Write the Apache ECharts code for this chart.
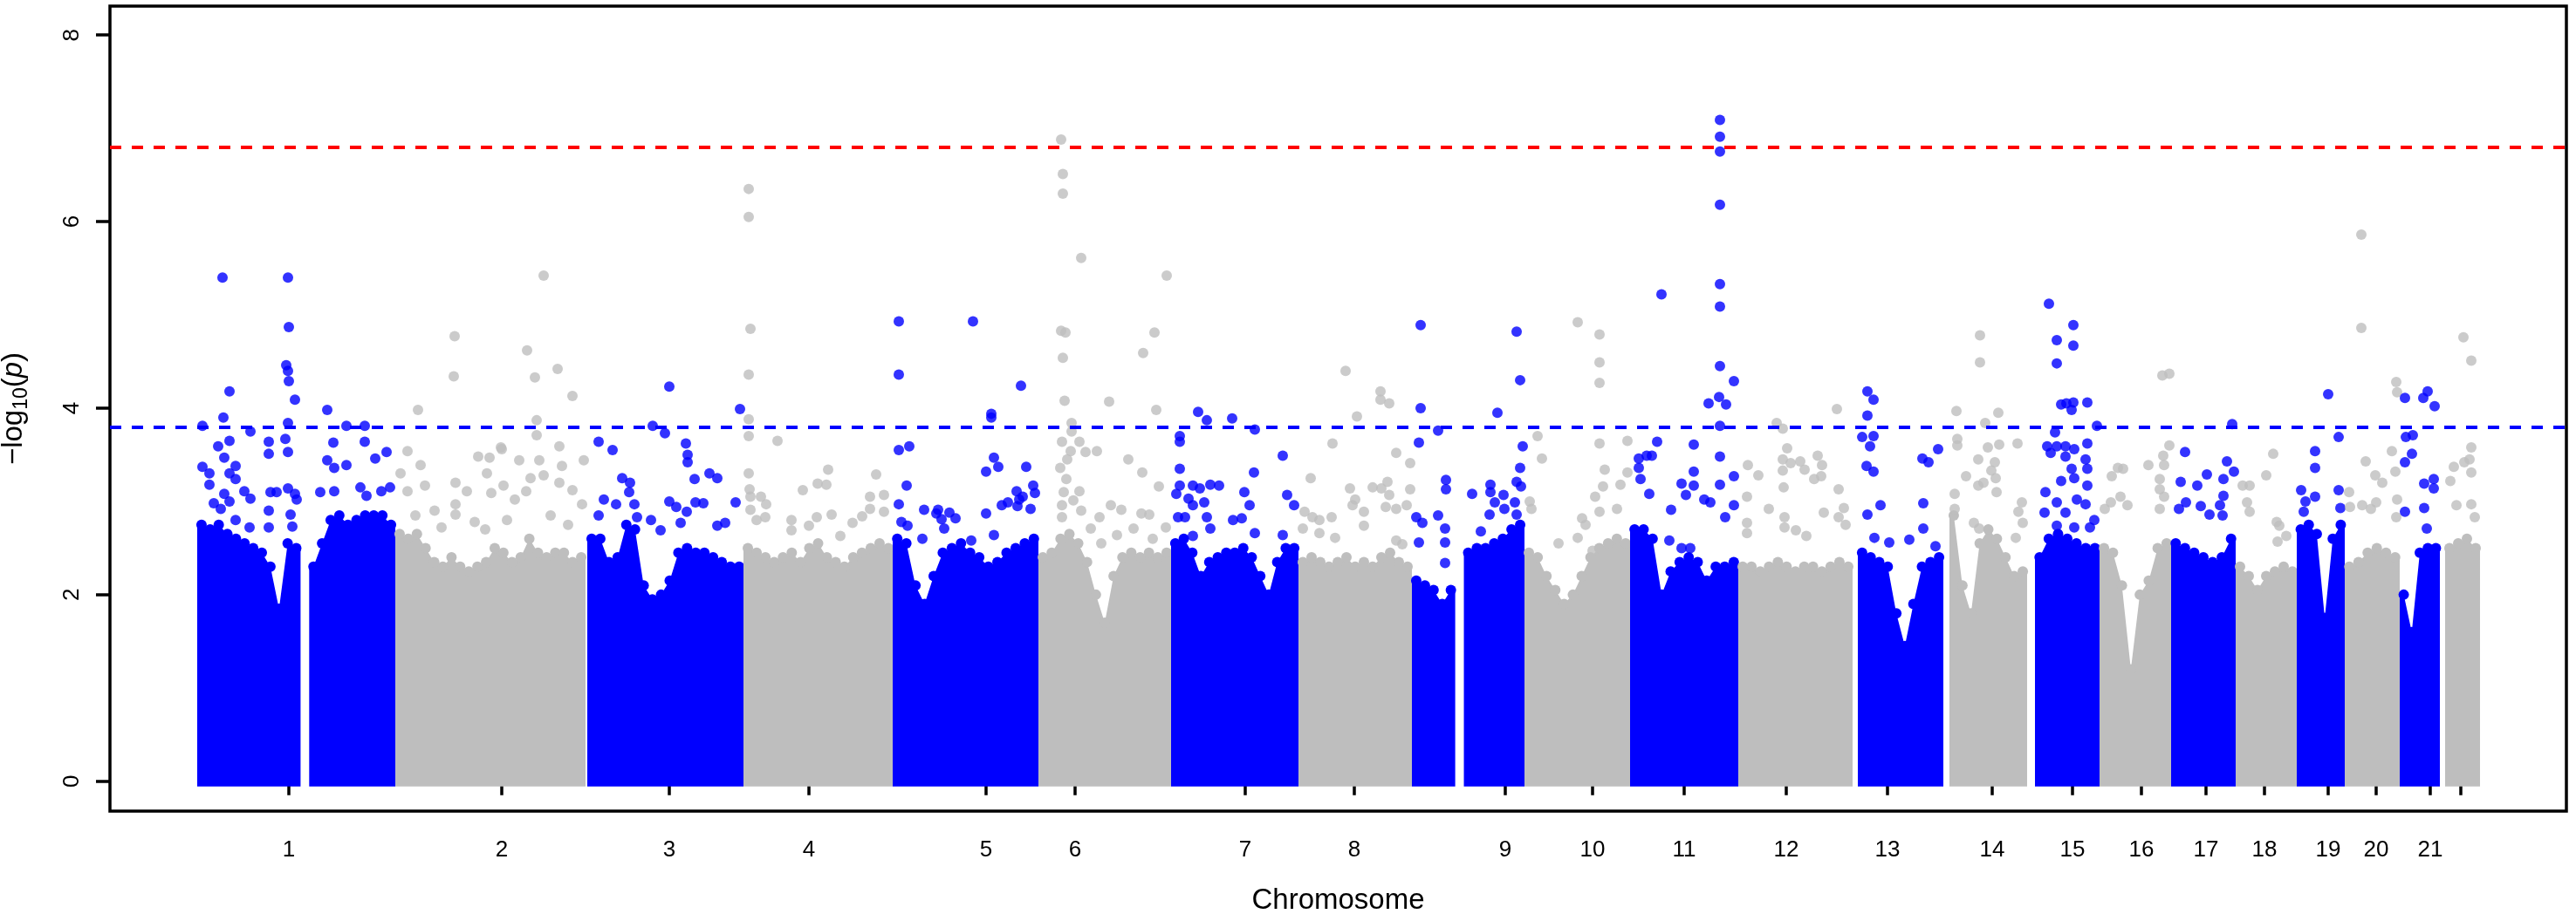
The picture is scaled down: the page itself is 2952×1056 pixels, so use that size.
<!DOCTYPE html>
<html lang="en">
<head>
    <meta charset="UTF-8">
    <title>Manhattan plot</title>
    <script src="https://cdn.jsdelivr.net/npm/echarts@6/dist/echarts.min.js"></script>
    <style>
        html, body { margin: 0; padding: 0; background: #fff; }
        #chart { width: 2952px; height: 1056px; }
    </style>
</head>
<body>
    <div id="chart"></div>
    <script>
        // chromosome tick labels (the 22nd tick carries no label in the original)
        const chrLabels = ['1', '2', '3', '4', '5', '6', '7', '8', '9', '10', '11',
            '12', '13', '14', '15', '16', '17', '18', '19', '20', '21', ''];
        // tick positions on the cumulative position axis
        const chrTicks = [205, 449, 641, 801, 1004, 1106, 1301, 1426, 1599, 1699, 1804,
            1921, 2037, 2157, 2249, 2328, 2402, 2469, 2542, 2597, 2659, 2694];
        // extent of every chromosome on the cumulative axis
        const chrStart = [100, 327, 547, 726, 897, 1064, 1216, 1362, 1492, 1621, 1742,
            1866, 2003, 2108, 2206, 2280, 2362, 2436, 2506, 2561, 2624, 2676];
        const chrEnd = [327, 545, 726, 897, 1064, 1216, 1362, 1492, 1621, 1742, 1866,
            1997, 2101, 2197, 2280, 2362, 2436, 2506, 2561, 2624, 2670, 2716];

        // upper edge of the dense SNP cloud, evenly spaced along each chromosome (0 = no SNPs)
        const denseTop = [
            [2.75, 2.7, 2.75, 2.65, 2.6, 2.55, 2.5, 2.45, 2.3, 1.85, 2.55, 2.5, 0, 2.3, 2.55, 2.8, 2.85, 2.75, 2.8, 2.85, 2.85, 2.85, 2.75],
            [2.65, 2.6, 2.65, 2.5, 2.35, 2.3, 2.4, 2.3, 2.25, 2.3, 2.35, 2.5, 2.45, 2.35, 2.4, 2.6, 2.45, 2.4, 2.45, 2.45, 2.35, 2.4],
            [2.6, 2.6, 2.35, 2.4, 2.75, 2.7, 2.1, 1.95, 2.0, 2.15, 2.45, 2.5, 2.45, 2.45, 2.4, 2.35, 2.3, 2.3],
            [2.5, 2.45, 2.4, 2.35, 2.4, 2.45, 2.35, 2.5, 2.55, 2.4, 2.35, 2.3, 2.4, 2.45, 2.5, 2.55, 2.5],
            [2.6, 2.55, 2.1, 1.9, 2.2, 2.45, 2.5, 2.55, 2.45, 2.4, 2.3, 2.35, 2.45, 2.5, 2.55, 2.6],
            [2.4, 2.45, 2.6, 2.65, 2.55, 2.35, 2.0, 1.7, 2.2, 2.4, 2.45, 2.4, 2.45, 2.4, 2.45],
            [2.55, 2.6, 2.45, 2.2, 2.35, 2.4, 2.45, 2.45, 2.5, 2.4, 2.2, 2.0, 2.35, 2.5, 2.5],
            [2.35, 2.4, 2.35, 2.3, 2.35, 2.4, 2.3, 2.35, 2.3, 2.4, 2.45, 2.35, 2.3],
            [2.15, 2.1, 2.05, 1.9, 2.05, 0, 2.45, 2.5, 2.5, 2.55, 2.6, 2.7, 2.75],
            [2.45, 2.4, 2.2, 2.05, 1.9, 2.0, 2.2, 2.4, 2.5, 2.55, 2.6, 2.55],
            [2.7, 2.7, 2.6, 2.0, 2.25, 2.35, 2.4, 2.35, 2.15, 2.3, 2.3, 2.35],
            [2.3, 2.3, 2.25, 2.3, 2.35, 2.3, 2.25, 2.3, 2.3, 2.25, 2.3, 2.35, 2.3],
            [2.45, 2.4, 2.35, 2.3, 1.8, 1.45, 1.9, 2.3, 2.35, 2.4],
            [2.85, 2.1, 1.8, 2.55, 2.7, 2.6, 2.4, 2.2, 2.25],
            [2.4, 2.6, 2.65, 2.6, 2.55, 2.5, 2.5],
            [2.5, 2.45, 2.1, 1.2, 2.0, 2.15, 2.5, 2.55],
            [2.55, 2.5, 2.45, 2.4, 2.35, 2.4, 2.6],
            [2.3, 2.2, 2.05, 2.2, 2.25, 2.3, 2.25],
            [2.7, 2.75, 2.65, 1.75, 2.6, 2.75],
            [2.3, 2.35, 2.45, 2.5, 2.45, 2.4],
            [2.0, 1.6, 2.45, 2.5, 2.5],
            [2.5, 2.55, 2.6, 2.5]
        ];

        // individual SNPs standing out above the cloud: [position, -log10(p)]
        const snps = [
            [[129, 5.40], [204, 5.40], [205, 4.87], [202, 4.46], [204, 4.40], [205, 4.29], [212, 4.09], [137, 4.18], [130, 3.90], [106, 3.81], [161, 3.75], [249, 3.98], [271, 3.81], [292, 3.81], [204, 3.84], [201, 3.67], [204, 3.53], [182, 3.64], [182, 3.51], [137, 3.65], [124, 3.59], [131, 3.47], [106, 3.37], [114, 3.30], [144, 3.38], [137, 3.30], [144, 3.24], [114, 3.18], [154, 3.11], [161, 3.03], [131, 3.08], [184, 3.10], [191, 3.10], [204, 3.14], [212, 3.08], [214, 3.02], [256, 3.63], [249, 3.44], [292, 3.64], [317, 3.53], [304, 3.46], [257, 3.36], [271, 3.39], [241, 3.10], [257, 3.11], [287, 3.15], [294, 3.06], [311, 3.11], [321, 3.15], [182, 2.90], [119, 2.98], [127, 2.92], [137, 3.00], [144, 2.80], [160, 2.72], [182, 2.72], [209, 2.73], [207, 2.86]],
            [[497, 5.42], [395, 4.77], [394, 4.34], [478, 4.62], [487, 4.33], [513, 4.42], [530, 4.13], [353, 3.98], [489, 3.87], [489, 3.71], [341, 3.54], [448, 3.58], [422, 3.48], [515, 3.59], [469, 3.44], [492, 3.44], [518, 3.38], [356, 3.39], [333, 3.30], [396, 3.20], [409, 3.11], [432, 3.30], [451, 3.17], [482, 3.25], [497, 3.28], [515, 3.20], [530, 3.12], [541, 2.97], [341, 3.11], [361, 3.17], [396, 2.97], [396, 2.86], [437, 3.09], [464, 3.02], [477, 3.11], [543, 3.44], [435, 3.47], [449, 3.56], [350, 2.85], [372, 2.90], [418, 2.78], [455, 2.80], [505, 2.85], [525, 2.75], [430, 2.70], [380, 2.72]],
            [[641, 4.23], [622, 3.81], [636, 3.73], [560, 3.64], [576, 3.55], [660, 3.62], [662, 3.50], [662, 3.42], [670, 3.24], [687, 3.30], [696, 3.25], [587, 3.25], [596, 3.20], [595, 3.10], [566, 3.02], [580, 2.97], [601, 2.97], [641, 3.00], [649, 2.94], [671, 2.99], [680, 2.98], [717, 2.99], [705, 2.77], [696, 2.74], [661, 2.89], [654, 2.77], [631, 2.69], [604, 2.83], [722, 3.99], [560, 2.85], [620, 2.80]],
            [[732, 6.35], [732, 6.05], [734, 4.85], [732, 4.36], [732, 3.88], [732, 3.70], [765, 3.65], [732, 3.30], [733, 3.13], [734, 3.05], [746, 3.05], [752, 2.97], [781, 2.80], [781, 2.69], [794, 3.12], [811, 3.19], [821, 3.18], [823, 3.34], [810, 2.83], [827, 2.86], [801, 2.74], [878, 3.29], [871, 3.05], [887, 3.07], [871, 2.92], [887, 2.89], [862, 2.84], [851, 2.77], [741, 2.80], [751, 2.83], [734, 2.91], [837, 2.63]],
            [[904, 4.93], [904, 4.36], [904, 3.55], [916, 3.59], [913, 3.17], [904, 2.97], [907, 2.78], [914, 2.74], [933, 2.91], [947, 2.87], [953, 2.81], [949, 2.91], [962, 2.88], [969, 2.82], [956, 2.71], [931, 2.60], [989, 4.93], [1044, 4.24], [1010, 3.94], [1010, 3.90], [1013, 3.47], [1004, 3.32], [1018, 3.37], [1050, 3.37], [1039, 3.11], [1042, 3.02], [1058, 3.17], [1060, 3.09], [1022, 2.96], [1029, 2.99], [1004, 2.87], [1055, 2.92], [1013, 2.64], [987, 2.58], [1040, 2.95], [1046, 3.05]],
            [[1090, 6.88], [1092, 6.51], [1092, 6.30], [1113, 5.61], [1211, 5.42], [1090, 4.83], [1095, 4.81], [1092, 4.54], [1197, 4.81], [1184, 4.59], [1145, 4.07], [1199, 3.98], [1094, 4.08], [1102, 3.84], [1102, 3.75], [1091, 3.64], [1111, 3.64], [1118, 3.53], [1131, 3.54], [1101, 3.54], [1097, 3.45], [1089, 3.36], [1167, 3.45], [1183, 3.31], [1202, 3.16], [1096, 3.24], [1093, 3.10], [1111, 3.11], [1104, 3.01], [1113, 2.90], [1147, 2.96], [1159, 2.91], [1134, 2.83], [1182, 2.87], [1191, 2.86], [1124, 2.71], [1173, 2.71], [1210, 2.72], [1154, 2.64], [1195, 2.60], [1136, 2.55], [1091, 2.96], [1091, 2.83]],
            [[1247, 3.96], [1257, 3.87], [1286, 3.89], [1312, 3.77], [1226, 3.70], [1226, 3.64], [1344, 3.49], [1226, 3.35], [1311, 3.31], [1226, 3.17], [1222, 3.08], [1241, 3.17], [1249, 3.14], [1261, 3.18], [1271, 3.17], [1300, 3.10], [1349, 3.07], [1357, 2.96], [1306, 2.96], [1236, 3.03], [1241, 2.96], [1254, 2.99], [1257, 2.83], [1224, 2.83], [1232, 2.83], [1287, 2.80], [1297, 2.82], [1241, 2.63], [1312, 2.66], [1344, 2.64], [1261, 2.71]],
            [[1416, 4.40], [1401, 3.62], [1376, 3.25], [1421, 3.14], [1369, 2.89], [1378, 2.83], [1386, 2.80], [1400, 2.83], [1404, 2.61], [1386, 2.66], [1367, 2.71], [1456, 4.18], [1456, 4.09], [1466, 4.05], [1429, 3.91], [1474, 3.52], [1490, 3.41], [1490, 3.13], [1447, 3.15], [1457, 3.14], [1464, 3.21], [1466, 3.07], [1427, 3.02], [1424, 2.96], [1462, 2.94], [1474, 2.92], [1486, 2.96], [1437, 2.89], [1437, 2.74], [1474, 2.58], [1481, 2.54]],
            [[1502, 4.89], [1502, 4.00], [1522, 3.76], [1500, 3.63], [1531, 3.23], [1531, 3.13], [1522, 2.85], [1497, 2.83], [1504, 2.77], [1530, 2.71], [1500, 2.56], [1530, 2.56], [1530, 2.34], [1612, 4.82], [1616, 4.30], [1590, 3.95], [1619, 3.59], [1616, 3.36], [1612, 3.21], [1617, 3.16], [1561, 3.08], [1582, 3.18], [1582, 3.10], [1587, 2.99], [1597, 3.07], [1598, 2.92], [1581, 2.86], [1571, 2.68], [1610, 2.99], [1612, 2.86]],
            [[1682, 4.92], [1707, 4.79], [1707, 4.49], [1707, 4.27], [1636, 3.70], [1641, 3.46], [1707, 3.62], [1739, 3.65], [1713, 3.34], [1711, 3.16], [1702, 3.05], [1731, 3.18], [1707, 2.89], [1727, 2.92], [1687, 2.82], [1691, 2.75], [1739, 3.31], [1627, 3.00], [1629, 2.92], [1682, 2.61], [1660, 2.55], [1699, 2.47]],
            [[1845, 7.09], [1845, 6.91], [1845, 6.75], [1845, 6.18], [1778, 5.22], [1845, 5.33], [1845, 5.09], [1845, 4.45], [1861, 4.29], [1832, 4.05], [1844, 4.12], [1852, 4.04], [1845, 3.81], [1815, 3.61], [1773, 3.64], [1845, 3.48], [1815, 3.32], [1861, 3.27], [1815, 3.17], [1801, 3.19], [1845, 3.18], [1752, 3.46], [1761, 3.49], [1767, 3.49], [1752, 3.36], [1754, 3.24], [1764, 3.08], [1789, 2.91], [1806, 3.07], [1827, 3.02], [1834, 2.99], [1861, 2.96], [1851, 2.83], [1787, 2.58], [1801, 2.50], [1811, 2.50]],
            [[1979, 3.99], [1910, 3.84], [1917, 3.78], [1922, 3.57], [1917, 3.45], [1926, 3.41], [1937, 3.43], [1942, 3.34], [1957, 3.49], [1962, 3.39], [1877, 3.39], [1889, 3.28], [1917, 3.33], [1953, 3.24], [1961, 3.27], [1918, 3.15], [1981, 3.13], [1876, 3.05], [1901, 2.92], [1919, 2.83], [1964, 2.88], [1987, 2.93], [1981, 2.83], [1989, 2.75], [1919, 2.72], [1932, 2.69], [1944, 2.63], [1876, 2.77], [1876, 2.66]],
            [[2014, 4.18], [2021, 4.09], [2014, 3.92], [2008, 3.69], [2021, 3.70], [2017, 3.59], [2013, 3.38], [2021, 3.32], [2029, 2.96], [2014, 2.86], [2095, 3.56], [2077, 3.46], [2084, 3.42], [2078, 2.98], [2078, 2.71], [2062, 2.59], [2022, 2.61], [2039, 2.56], [2092, 2.52]],
            [[2143, 4.78], [2143, 4.49], [2116, 3.97], [2164, 3.95], [2149, 3.84], [2117, 3.67], [2117, 3.60], [2152, 3.58], [2165, 3.61], [2186, 3.62], [2141, 3.45], [2160, 3.42], [2127, 3.27], [2156, 3.33], [2161, 3.25], [2141, 3.17], [2147, 3.20], [2162, 3.10], [2114, 3.08], [2191, 2.99], [2187, 2.89], [2136, 2.77], [2142, 2.71], [2114, 2.92], [2192, 2.77], [2184, 2.61]],
            [[2222, 5.12], [2250, 4.89], [2231, 4.73], [2250, 4.67], [2231, 4.48], [2236, 4.04], [2242, 4.05], [2250, 4.06], [2248, 3.98], [2266, 4.06], [2277, 3.81], [2229, 3.74], [2220, 3.59], [2231, 3.59], [2241, 3.59], [2224, 3.52], [2241, 3.48], [2251, 3.56], [2266, 3.62], [2264, 3.45], [2266, 3.35], [2248, 3.35], [2236, 3.22], [2251, 3.25], [2266, 3.17], [2218, 3.10], [2231, 2.99], [2254, 3.02], [2264, 2.97], [2217, 2.88], [2241, 2.88], [2274, 2.80], [2231, 2.74], [2251, 2.72], [2269, 2.72]],
            [[2352, 4.35], [2360, 4.37], [2360, 3.60], [2353, 3.49], [2354, 3.39], [2349, 3.24], [2307, 3.35], [2336, 3.39], [2349, 3.13], [2354, 3.05], [2349, 2.92], [2304, 3.05], [2312, 2.96], [2294, 3.27], [2301, 3.36], [2293, 2.99], [2286, 2.92]],
            [[2432, 3.83], [2378, 3.53], [2426, 3.43], [2434, 3.32], [2373, 3.21], [2392, 3.17], [2403, 3.29], [2422, 3.24], [2422, 3.06], [2379, 2.99], [2396, 2.95], [2406, 2.86], [2418, 2.96], [2421, 2.85], [2371, 2.92]],
            [[2479, 3.51], [2471, 3.28], [2452, 3.17], [2449, 2.99], [2452, 2.89], [2483, 2.78], [2486, 2.74], [2494, 2.63], [2484, 2.57], [2444, 3.17]],
            [[2542, 4.15], [2554, 3.69], [2527, 3.54], [2527, 3.36], [2511, 3.12], [2527, 3.05], [2554, 3.12], [2516, 3.00], [2556, 2.93], [2514, 2.89]],
            [[2580, 5.86], [2580, 4.86], [2620, 4.28], [2621, 4.17], [2585, 3.43], [2615, 3.54], [2619, 3.32], [2596, 3.28], [2604, 3.20], [2566, 3.10], [2581, 2.96], [2621, 3.02], [2620, 2.83], [2591, 2.92], [2597, 2.99], [2567, 2.94]],
            [[2630, 4.11], [2651, 4.11], [2656, 4.18], [2664, 4.02], [2631, 3.69], [2639, 3.71], [2638, 3.51], [2630, 3.42], [2652, 3.19], [2663, 3.24], [2663, 3.14], [2630, 2.89], [2652, 2.93], [2655, 2.71]],
            [[2697, 4.76], [2706, 4.51], [2706, 3.58], [2698, 3.42], [2704, 3.45], [2686, 3.37], [2706, 3.31], [2682, 3.22], [2689, 2.96], [2706, 2.97], [2710, 2.83]]
        ];

        // significance thresholds
        const genomeWideLine = 6.8;
        const suggestiveLine = 3.8;
        const yTicks = [0, 2, 4, 6, 8];

        const BLUE = '#0000FF';
        const GREY = '#BEBEBE';
        const DOT = 12;
        const FONT = '"Liberation Sans", Arial, Helvetica, sans-serif';

        // one custom item per chromosome, the outline comes from denseTop
        let cloud = chrStart.map(function (s, c) { return [s, chrEnd[c], c]; });

        let dots = [];
        snps.forEach(function (list, c) {
            list.forEach(function (p) {
                dots.push({ value: p, itemStyle: { color: c % 2 === 0 ? BLUE : GREY } });
            });
        });

        // filled outline of the SNP cloud of one chromosome, split where there are no SNPs
        function renderCloud(params, api) {
            let c = api.value(2);
            let tops = denseTop[c];
            let x0 = api.value(0);
            let step = (api.value(1) - x0) / tops.length;
            let color = c % 2 === 0 ? BLUE : GREY;
            let r = DOT / 2;
            let polys = [];
            let bumps = [];
            let i = 0;
            while (i < tops.length) {
                if (tops[i] <= 0) { i++; continue; }
                let j = i;
                while (j < tops.length && tops[j] > 0) j++;
                let pts = [];
                let b0 = api.coord([x0 + i * step, 0]);
                pts.push([b0[0], b0[1] + r]);
                pts.push(api.coord([x0 + i * step, tops[i]]));
                for (let k = i; k < j; k++) {
                    let p = api.coord([x0 + (k + 0.5) * step, tops[k]]);
                    pts.push(p);
                    bumps.push({ type: 'circle', shape: { cx: p[0], cy: p[1], r: r }, style: { fill: color } });
                }
                pts.push(api.coord([x0 + j * step, tops[j - 1]]));
                let b1 = api.coord([x0 + j * step, 0]);
                pts.push([b1[0], b1[1] + r]);
                polys.push({ type: 'polygon', shape: { points: pts }, style: { fill: color } });
                i = j;
            }
            return { type: 'group', children: polys.concat(bumps) };
        }

        let myEchart = echarts.init(document.getElementById('chart'), null, { renderer: 'canvas' });
        let option = {
            backgroundColor: '#fff',
            animation: false,
            grid: {
                left: 126,
                right: 11,
                top: 7,
                bottom: 126,
                show: true,
                borderColor: '#000',
                borderWidth: 3.5,
                backgroundColor: 'transparent',
                containLabel: false,
                outerBoundsMode: 'none'
            },
            xAxis: {
                type: 'value',
                min: 0,
                max: 2815,
                name: 'Chromosome',
                nameLocation: 'middle',
                nameGap: 86,
                nameTextStyle: { fontSize: 33, color: '#000', fontFamily: FONT },
                axisLine: { show: false },
                splitLine: { show: false },
                axisTick: {
                    show: true,
                    customValues: chrTicks,
                    length: 16,
                    lineStyle: { color: '#000', width: 3.5 }
                },
                axisLabel: {
                    customValues: chrTicks,
                    formatter: function (v) { return chrLabels[chrTicks.indexOf(v)]; },
                    margin: 32,
                    fontSize: 26,
                    color: '#000',
                    fontFamily: FONT,
                    hideOverlap: false
                }
            },
            yAxis: {
                type: 'value',
                min: -0.32,
                max: 8.31,
                name: '{a|\u2212log}{b|10}{a|(}{c|p}{a|)}',
                nameLocation: 'middle',
                nameRotate: 90,
                nameGap: 90,
                nameTextStyle: {
                    color: '#000',
                    fontFamily: FONT,
                    rich: {
                        a: { fontSize: 33, fontFamily: FONT, color: '#000', lineHeight: 40, verticalAlign: 'middle' },
                        b: { fontSize: 23, fontFamily: FONT, color: '#000', lineHeight: 23, verticalAlign: 'bottom' },
                        c: { fontSize: 33, fontFamily: FONT, color: '#000', fontStyle: 'italic', lineHeight: 40, verticalAlign: 'middle' }
                    }
                },
                axisLine: { show: false },
                splitLine: { show: false },
                axisTick: {
                    show: true,
                    customValues: yTicks,
                    length: 16,
                    lineStyle: { color: '#000', width: 3.5 }
                },
                axisLabel: {
                    customValues: yTicks,
                    rotate: 90,
                    margin: 30,
                    fontSize: 26,
                    color: '#000',
                    fontFamily: FONT
                }
            },
            series: [
                {
                    // dense body of SNPs per chromosome
                    type: 'custom',
                    z: 1,
                    silent: true,
                    data: cloud,
                    renderItem: renderCloud
                },
                {
                    type: 'scatter',
                    z: 2,
                    symbol: 'circle',
                    symbolSize: DOT,
                    data: dots,
                    markLine: {
                        silent: true,
                        symbol: 'none',
                        label: { show: false },
                        data: [
                            { yAxis: genomeWideLine, lineStyle: { color: '#FF0000', type: [13, 12], width: 4 } },
                            { yAxis: suggestiveLine, lineStyle: { color: BLUE, type: [13, 12], width: 4 } }
                        ]
                    }
                }
            ]
        };
        myEchart.setOption(option);
    </script>
</body>
</html>
